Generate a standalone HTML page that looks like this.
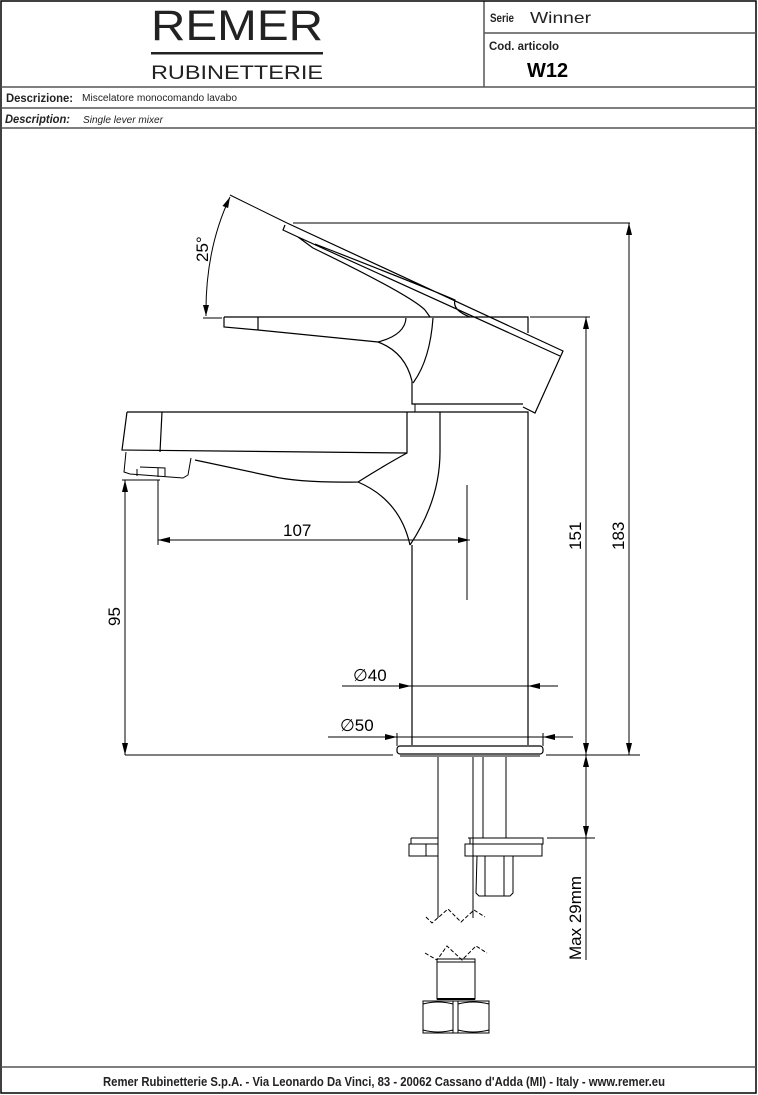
<!DOCTYPE html>
<html><head><meta charset="utf-8"><style>
body{margin:0;background:#fff}
svg{display:block}
.t{font-family:"Liberation Sans",sans-serif}
</style></head><body>
<svg width="758" height="1095" viewBox="0 0 758 1095" xmlns="http://www.w3.org/2000/svg" fill="none" stroke="#000" stroke-width="1">
<rect x="1" y="1" width="755" height="1092" stroke-width="1.5"/>
<line x1="484" y1="1" x2="484" y2="87"/>
<line x1="484" y1="33" x2="756" y2="33" stroke="#555" stroke-width="1.5"/>
<line x1="1" y1="87" x2="756" y2="87" stroke="#555" stroke-width="1.5"/>
<line x1="1" y1="108" x2="756" y2="108" stroke="#555" stroke-width="1.5"/>
<line x1="1" y1="128" x2="756" y2="128" stroke="#555" stroke-width="1.5"/>
<line x1="1" y1="1067" x2="756" y2="1067" stroke="#555" stroke-width="1.5"/>
<g fill="#222" stroke="none" class="t">
<text x="237" y="40" font-size="43" text-anchor="middle" textLength="172" lengthAdjust="spacingAndGlyphs">REMER</text>
<rect x="151" y="52" width="172" height="2.5"/>
<text x="237" y="79" font-size="19" text-anchor="middle" textLength="172" lengthAdjust="spacingAndGlyphs">RUBINETTERIE</text>
<text x="490" y="22" font-size="12" font-weight="bold" textLength="24" lengthAdjust="spacingAndGlyphs">Serie</text>
<text x="530" y="23" font-size="16" textLength="61" lengthAdjust="spacingAndGlyphs">Winner</text>
<text x="489" y="50" font-size="12" font-weight="bold" textLength="70" lengthAdjust="spacingAndGlyphs">Cod. articolo</text>
<text x="527" y="77" font-size="20" font-weight="bold" fill="#000">W12</text>
<text x="6" y="102" font-size="12" font-weight="bold" textLength="67" lengthAdjust="spacingAndGlyphs">Descrizione:</text>
<text x="82" y="101" font-size="10" textLength="155" lengthAdjust="spacingAndGlyphs">Miscelatore monocomando lavabo</text>
<text x="5" y="123" font-size="12" font-weight="bold" font-style="italic" textLength="65" lengthAdjust="spacingAndGlyphs">Description:</text>
<text x="83" y="123" font-size="10" font-style="italic" textLength="80" lengthAdjust="spacingAndGlyphs">Single lever mixer</text>
<text x="384" y="1086" font-size="13" font-weight="bold" text-anchor="middle" textLength="562" lengthAdjust="spacingAndGlyphs">Remer Rubinetterie S.p.A. - Via Leonardo Da Vinci, 83 - 20062 Cassano d'Adda (MI) - Italy - www.remer.eu</text>
</g>
<!-- lever tilted -->
<line x1="230" y1="195" x2="287" y2="223"/>
<line x1="293" y1="223" x2="630" y2="223"/>
<path d="M287,223 L563,351 L535,413 L523,407 M285,225 L283,230 L298,237 L560,356 M298,237 L313,248 M315,244 Q420,285 455,300 Q452,310 470,317 M313,248 Q410,295 425,310 L430,317" stroke-width="1.2"/>
<!-- 25 arc -->
<path d="M230,197 Q205,250 206,316"/>
<polygon points="230,197 226,208 232,208" fill="#000" stroke="none" transform="rotate(20 230 197)"/>
<polygon points="206,316 203,305 209,305" fill="#000" stroke="none"/>
<line x1="203" y1="318" x2="222" y2="318"/>
<text x="208" y="262" class="t" font-size="17" fill="#000" stroke="none" transform="rotate(-90 208 262)">25°</text>
<!-- lever base -->
<path d="M224,317 L528,317 L528,333 M224,317 L224,327 L258,330 L378,342 Q405,352 412,381 L412,404 L523,404 M258,317 L258,330 M406,318 Q405,335 378,342 M433,318 Q430,360 413,383" stroke-width="1.2"/>
<line x1="530" y1="317" x2="590" y2="317"/>
<line x1="415" y1="404" x2="415" y2="412"/>
<!-- spout body -->
<path d="M127,412 L528,412 L528,745 M127,412 L122,450 L407,453 M162,412 L160,452 M407,412 L407,453 Q385,465 358,482 M440,412 L440,452 Q440,500 410,545 M195,460 L270,476 Q300,483 358,482 Q400,500 410,545" stroke-width="1.2"/>
<path d="M126,452 L124,472 L130,474 L183,478 L188,475 L191,458 M137,469 L137,476 M140,467 L165,468 L165,477 M158,468 L158,477" stroke-width="1"/>
<line x1="412" y1="545" x2="412" y2="745" stroke-width="1.2"/>
<line x1="467" y1="485" x2="467" y2="600" />
<!-- 107 -->
<line x1="158" y1="480" x2="158" y2="545"/>
<line x1="158" y1="540" x2="470" y2="540"/>
<polygon points="158,540 170,537 170,543" fill="#000" stroke="none"/>
<polygon points="470,540 458,537 458,543" fill="#000" stroke="none"/>
<text x="283" y="536" class="t" font-size="17" fill="#000" stroke="none">107</text>
<!-- 95 -->
<line x1="122" y1="480" x2="160" y2="480"/>
<line x1="125" y1="480" x2="125" y2="755"/>
<polygon points="125,480 122,492 128,492" fill="#000" stroke="none"/>
<polygon points="125,755 122,743 128,743" fill="#000" stroke="none"/>
<text x="120" y="626" class="t" font-size="17" fill="#000" stroke="none" transform="rotate(-90 120 626)">95</text>
<!-- base -->
<line x1="125" y1="755" x2="393" y2="755"/>
<line x1="546" y1="755" x2="640" y2="755"/>
<rect x="397" y="746" width="146" height="8" rx="3" stroke-width="1.2"/>
<line x1="400" y1="756" x2="540" y2="756"/>
<!-- phi 40 -->
<line x1="342" y1="686" x2="558" y2="686"/>
<polygon points="411,686 399,683 399,689" fill="#000" stroke="none"/>
<polygon points="528,686 540,683 540,689" fill="#000" stroke="none"/>
<text x="353" y="681" class="t" font-size="17" fill="#000" stroke="none">∅40</text>
<!-- phi 50 -->
<line x1="328" y1="737" x2="573" y2="737"/>
<polygon points="397,737 385,734 385,740" fill="#000" stroke="none"/>
<polygon points="543,737 555,734 555,740" fill="#000" stroke="none"/>
<line x1="397" y1="733" x2="397" y2="746"/><line x1="543" y1="733" x2="543" y2="746"/>
<text x="340" y="731" class="t" font-size="17" fill="#000" stroke="none">∅50</text>
<!-- 151 -->
<line x1="586" y1="317" x2="586" y2="960"/>
<polygon points="586,317 583,329 589,329" fill="#000" stroke="none"/>
<polygon points="586,755 583,743 589,743" fill="#000" stroke="none"/>
<polygon points="586,755 583,767 589,767" fill="#000" stroke="none"/>
<polygon points="586,838 583,826 589,826" fill="#000" stroke="none"/>
<text x="581" y="550" class="t" font-size="17" fill="#000" stroke="none" transform="rotate(-90 581 550)">151</text>
<!-- 183 -->
<line x1="629" y1="223" x2="629" y2="755"/>
<polygon points="629,223 626,235 632,235" fill="#000" stroke="none"/>
<polygon points="629,755 626,743 632,743" fill="#000" stroke="none"/>
<text x="624" y="550" class="t" font-size="17" fill="#000" stroke="none" transform="rotate(-90 624 550)">183</text>
<!-- Max 29 -->
<line x1="547" y1="838" x2="595" y2="838"/>
<text x="581" y="960" class="t" font-size="17" fill="#000" stroke="none" transform="rotate(-90 581 960)">Max 29mm</text>
<!-- pipes -->
<line x1="438" y1="757" x2="438" y2="918"/>
<line x1="473" y1="757" x2="473" y2="918"/>
<line x1="483" y1="757" x2="483" y2="838"/>
<line x1="506" y1="757" x2="506" y2="838"/>
<path d="M411,838 L438,838 M409,844 L438,844 L438,856 L409,856 Z M426,844 L426,856 M411,838 L411,844"/>
<path d="M468,838 L543,838 L543,844 L465,844 L465,856 L542,856 L542,844 M470,838 L470,844"/>
<path d="M477,856 L513,856 L513,893 L510,896 L479,896 L476,893 Z M485,856 L485,896 M504,856 L504,896"/>
<path d="M426,917 L432,923 L448,909 L461,922 L474,910 L485,917" stroke-dasharray="4,2"/>
<path d="M425,953 L437,960 L447,946 L462,960 L476,946 L487,953" stroke-dasharray="4,2"/>
<rect x="437" y="959" width="38" height="40"/>
<line x1="437" y1="962" x2="475" y2="962"/>
<line x1="437" y1="999" x2="475" y2="999" stroke-width="2"/>
<path d="M423,1001 L489,1001 L489,1033 L423,1033 Z M453,1001 L453,1033 M458,1001 L458,1033 M423,1004 Q438,1000 453,1004 M458,1004 Q473,1000 489,1004 M423,1030 Q438,1034 453,1030 M458,1030 Q473,1034 489,1030"/>
</svg>
</body></html>
